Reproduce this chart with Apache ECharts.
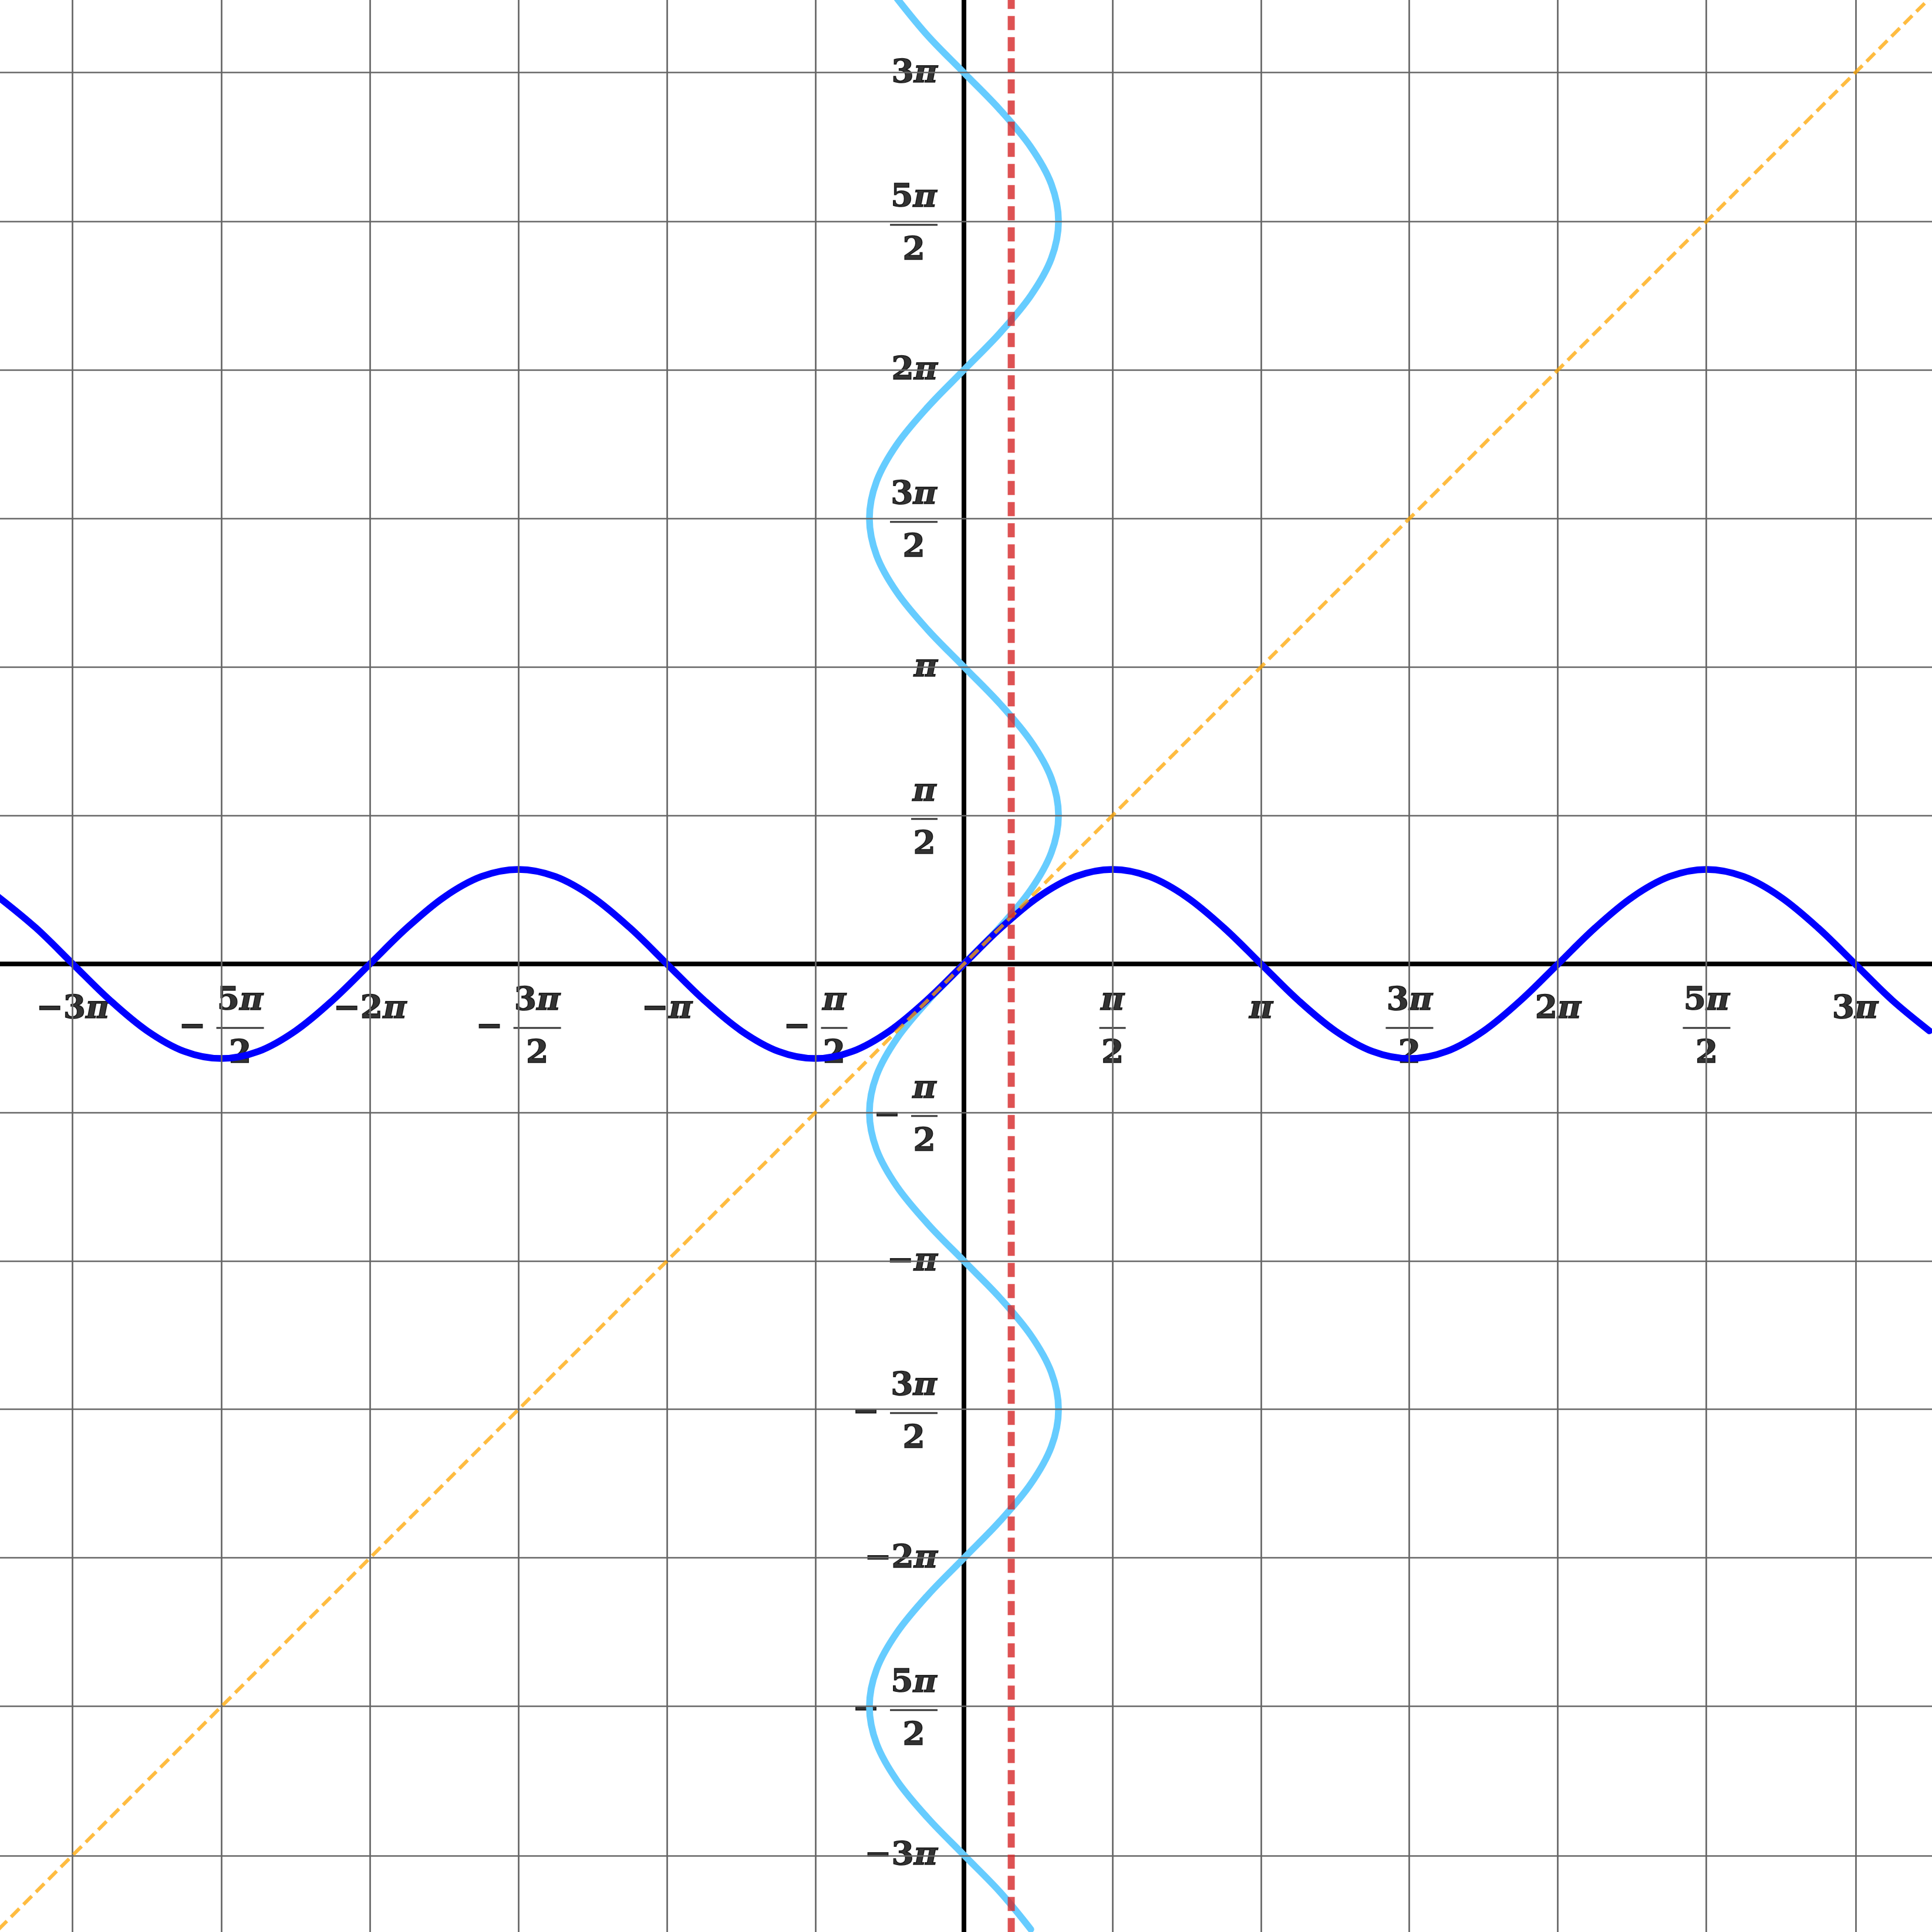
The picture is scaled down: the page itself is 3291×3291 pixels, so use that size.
<!DOCTYPE html>
<html>
<head>
<meta charset="utf-8">
<script src="https://cdn.jsdelivr.net/npm/echarts@6.0.0/dist/echarts.min.js"></script>
<style>
  html, body { margin: 0; padding: 0; background: #fff; }
  #chart { width: 3291px; height: 3291px; }
</style>
</head>
<body>
<div id="chart"></div>
<script>
// sample points of the sine curve, every pi/8
const angles = [-10.21, -9.817, -9.425, -9.032, -8.639, -8.247, -7.854, -7.461, -7.069, -6.676,
  -6.283, -5.890, -5.498, -5.105, -4.712, -4.320, -3.927, -3.534, -3.142, -2.749,
  -2.356, -1.963, -1.571, -1.178, -0.785, -0.393, 0, 0.393, 0.785, 1.178,
  1.571, 1.963, 2.356, 2.749, 3.142, 3.534, 3.927, 4.320, 4.712, 5.105,
  5.498, 5.890, 6.283, 6.676, 7.069, 7.461, 7.854, 8.247, 8.639, 9.032,
  9.425, 9.817, 10.21];
const sineVals = [0.707, 0.383, 0, -0.383, -0.707, -0.924, -1, -0.924, -0.707, -0.383,
  0, 0.383, 0.707, 0.924, 1, 0.924, 0.707, 0.383, 0, -0.383,
  -0.707, -0.924, -1, -0.924, -0.707, -0.383, 0, 0.383, 0.707, 0.924,
  1, 0.924, 0.707, 0.383, 0, -0.383, -0.707, -0.924, -1, -0.924,
  -0.707, -0.383, 0, 0.383, 0.707, 0.924, 1, 0.924, 0.707, 0.383,
  0, -0.383, -0.707];

// y = x diagonal and the vertical x = 0.5 line
const diagX = [-10.21, 10.21];
const diagY = [-10.21, 10.21];
const vLineX = 0.5;
const vLineY = [-10.24, 10.2];

// ticks / grid at multiples of pi/2
const tickVals = [-9.425, -7.854, -6.283, -4.712, -3.142, -1.571, 1.571, 3.142, 4.712, 6.283, 7.854, 9.425];
const tickLabels = ['−3π', '−5π/2', '−2π', '−3π/2', '−π', '−π/2', 'π/2', 'π', '3π/2', '2π', '5π/2', '3π'];

const xRange = [-10.195, 10.238];
const yRange = [-10.238, 10.195];

const FONT = 'DejaVu Serif';

function piText(s) {
  // "3π" -> {d|3}{p|π}
  const m = s.match(/^(\d*)π$/);
  return (m[1] ? '{d|' + m[1] + '}' : '') + '{p|π}';
}

function labelText(label) {
  const neg = label[0] === '−';
  const body = neg ? label.slice(1) : label;
  const parts = body.split('/');
  if (parts.length === 1) {
    return (neg ? '{d|−}' : '') + piText(body);
  }
  const bar = parts[0].length > 1 ? 'w2' : 'w1';
  return (neg ? '{sp|}' : '') + piText(parts[0]) + '\n' +
    (neg ? '{mi|−}' : '') + '{' + bar + '|}\n' +
    (neg ? '{sp|}' : '') + '{d|' + parts[1] + '}';
}

const txt = { fontFamily: FONT, fontWeight: 'bold', fontSize: 55, color: '#000', textBorderColor: '#000', textBorderWidth: 1.5 };
const richStyle = {
  d: Object.assign({ lineHeight: 60, align: 'center' }, txt),
  p: Object.assign({ lineHeight: 60, align: 'center', fontStyle: 'italic' }, txt),
  sp: { width: 64, lineHeight: 60, align: 'left' },
  mi: Object.assign({ width: 64, lineHeight: 30, align: 'left' }, txt),
  w1: { width: 45, height: 3, lineHeight: 30, backgroundColor: '#000', align: 'center' },
  w2: { width: 81, height: 3, lineHeight: 30, backgroundColor: '#000', align: 'center' }
};

const labelData = [];
tickVals.forEach((v, i) => {
  const text = labelText(tickLabels[i]);
  const isFrac = tickLabels[i].indexOf('/') >= 0;
  labelData.push({
    value: [v, 0],
    label: { position: 'bottom', distance: 34, offset: [0, isFrac ? 0 : 14], formatter: text }
  });
  labelData.push({
    value: [0, v],
    label: { position: 'left', distance: 45, offset: [0, isFrac ? 6 : 2], formatter: text }
  });
});

const chart = echarts.init(document.getElementById('chart'));

const option = {
  animation: false,
  backgroundColor: '#fff',
  grid: { left: 0, right: 0, top: 0, bottom: 0 },
  xAxis: {
    type: 'value',
    min: xRange[0],
    max: xRange[1],
    axisLine: { show: true, onZero: true, lineStyle: { color: '#000', width: 8 } },
    axisTick: { show: false },
    axisLabel: { show: false },
    splitLine: { show: false }
  },
  yAxis: {
    type: 'value',
    min: yRange[0],
    max: yRange[1],
    axisLine: { show: true, onZero: true, lineStyle: { color: '#000', width: 8 } },
    axisTick: { show: false },
    axisLabel: { show: false },
    splitLine: { show: false }
  },
  series: [
    {
      // grid lines
      type: 'line',
      z: 0,
      data: [],
      silent: true,
      markLine: {
        silent: true,
        animation: false,
        symbol: ['none', 'none'],
        label: { show: false },
        lineStyle: { color: '#666', width: 2.7, type: 'solid' },
        emphasis: { disabled: true },
        data: tickVals.map(v => ({ xAxis: v })).concat(tickVals.map(v => ({ yAxis: v })))
      }
    },
    {
      // tick labels
      type: 'scatter',
      z: 1,
      symbolSize: 0,
      silent: true,
      label: { show: true, color: '#000', rich: richStyle },
      data: labelData
    },
    {
      name: 'x = sin(y)',
      type: 'line',
      z: 3,
      smooth: 0.35,
      showSymbol: false,
      symbol: 'none',
      lineStyle: { color: '#66ccff', width: 11.5, cap: 'round' },
      data: angles.map((a, i) => [sineVals[i], a])
    },
    {
      name: 'y = sin(x)',
      type: 'line',
      z: 4,
      smooth: 0.35,
      showSymbol: false,
      symbol: 'none',
      lineStyle: { color: '#0000ff', width: 11.5, cap: 'round' },
      data: angles.map((a, i) => [a, sineVals[i]])
    },
    {
      name: 'y = x',
      type: 'line',
      z: 5,
      showSymbol: false,
      symbol: 'none',
      lineStyle: { color: 'rgba(255,165,0,0.75)', width: 6, type: [20, 10] },
      data: diagX.map((x, i) => [x, diagY[i]])
    },
    {
      name: 'x = 0.5',
      type: 'line',
      z: 6,
      showSymbol: false,
      symbol: 'none',
      lineStyle: { color: 'rgba(214,39,40,0.8)', width: 12, type: [24, 12] },
      data: vLineY.map(y => [vLineX, y])
    }
  ]
};

chart.setOption(option);
</script>
</body>
</html>
